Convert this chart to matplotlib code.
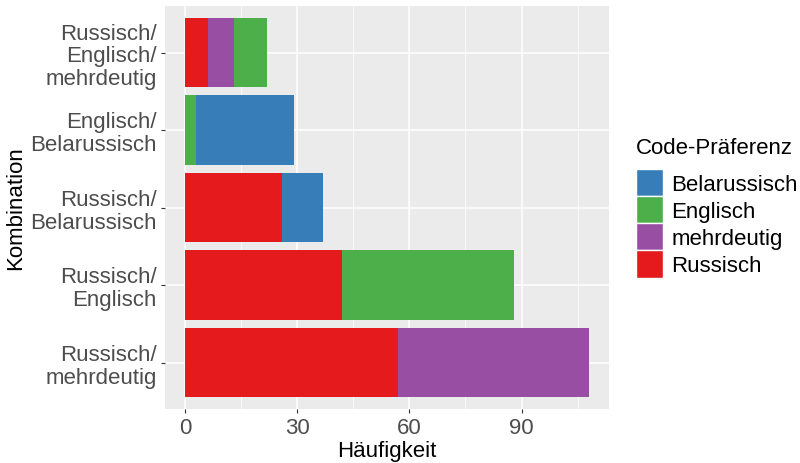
import numpy as np
import matplotlib
matplotlib.use('Agg')
import matplotlib.pyplot as plt
from matplotlib.patches import Patch

plt.rcParams['font.family'] = ['Liberation Sans', 'DejaVu Sans']

# Kombinationen (von unten nach oben)
kombinationen = ['Russisch/\nmehrdeutig', 'Russisch/\nEnglisch', 'Russisch/\nBelarussisch',
                 'Englisch/\nBelarussisch', 'Russisch/\nEnglisch/\nmehrdeutig']

# Häufigkeiten je Code-Präferenz
russisch = [57, 42, 26, 0, 6]
mehrdeutig = [51, 0, 0, 0, 7]
englisch = [0, 46, 0, 3, 9]
belarussisch = [0, 0, 11, 26, 0]

farben = {'Belarussisch': '#377EB8', 'Englisch': '#4DAF4A',
          'mehrdeutig': '#984EA3', 'Russisch': '#E41A1C'}

fs = 16

fig = plt.figure(figsize=(8, 4.64), dpi=100)
ax = fig.add_axes([165/800, 1 - 410/464, 444/800, 403/464])
ax.set_facecolor('#EBEBEB')

y = np.arange(len(kombinationen))
links = np.zeros(len(kombinationen))
for name, werte in [('Russisch', russisch), ('mehrdeutig', mehrdeutig),
                    ('Englisch', englisch), ('Belarussisch', belarussisch)]:
    werte = np.array(werte, dtype=float)
    ax.barh(y, werte, left=links, height=0.9, color=farben[name], zorder=3)
    links += werte

gesamt = links.max()
ax.set_xlim(-0.05 * gesamt, gesamt * 1.05)
ax.set_ylim(-0.6, len(kombinationen) - 0.4)

ax.set_xticks([0, 30, 60, 90])
ax.set_xticks([15, 45, 75, 105], minor=True)
ax.set_yticks(y)
ax.set_yticklabels(kombinationen, ha='right', linespacing=1.12)

ax.grid(which='major', color='white', linewidth=1.1, zorder=0)
ax.grid(which='minor', axis='x', color='white', linewidth=0.55, zorder=0)
for s in ax.spines.values():
    s.set_visible(False)

ax.tick_params(axis='both', which='major', length=3, width=0.8, color='#333333',
               labelsize=fs, labelcolor='#4D4D4D', pad=3)
ax.tick_params(axis='both', which='minor', length=0)

ax.set_xlabel('Häufigkeit', fontsize=fs, color='black', labelpad=1)
ax.set_ylabel('Kombination', fontsize=fs, color='black', labelpad=3)

handles = [Patch(facecolor=farben[n], edgecolor='white', linewidth=1, label=n)
           for n in ['Belarussisch', 'Englisch', 'mehrdeutig', 'Russisch']]
leg = fig.legend(handles=handles, title='Code-Präferenz', loc='upper left',
                 bbox_to_anchor=(636/800, 1 - 138/464), frameon=False,
                 fontsize=fs, title_fontsize=fs, handlelength=1.2, handleheight=1.5,
                 labelspacing=0.0, handletextpad=0.4, borderaxespad=0, borderpad=0)
leg._legend_box.align = 'left'
leg._legend_box.sep = 8

fig.savefig('out.png', dpi=100)
